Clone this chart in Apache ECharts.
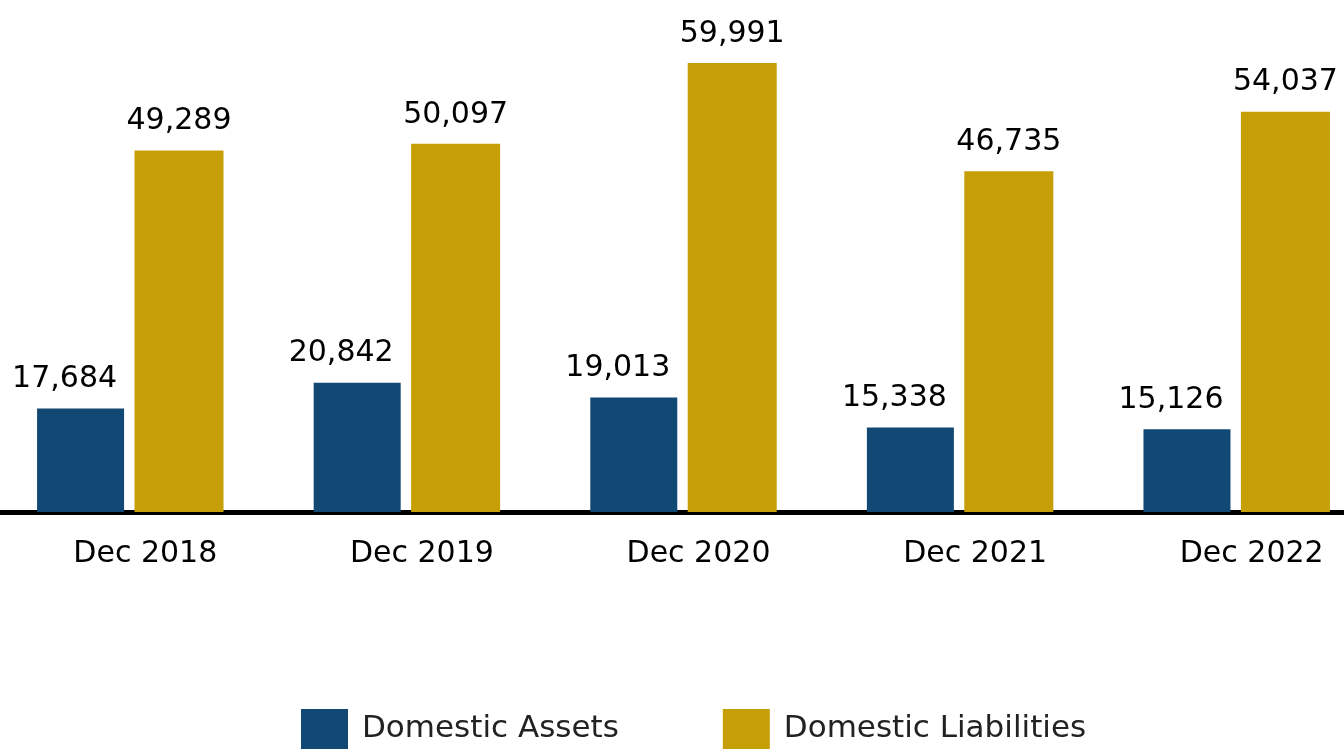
<!DOCTYPE html>
<html>
<head>
<meta charset="utf-8">
<script src="https://cdn.jsdelivr.net/npm/echarts@6/dist/echarts.min.js"></script>
<style>
  html, body { margin: 0; padding: 0; background: #fff; }
  #chart { width: 1344px; height: 749px; }
</style>
</head>
<body>
<div id="chart"></div>
<script>
const categories = ['Dec 2018', 'Dec 2019', 'Dec 2020', 'Dec 2021', 'Dec 2022'];
const domesticAssets = [17684, 20842, 19013, 15338, 15126];
const domesticLiabilities = [49289, 50097, 59991, 46735, 54037];

const FONT = 'DejaVu Sans';
const fmt = (p) => p.value.toLocaleString('en-US');

const chart = echarts.init(document.getElementById('chart'));
chart.setOption({
    animation: false,
    backgroundColor: '#ffffff',
    textStyle: { fontFamily: FONT },
    color: ['#124874', '#C59F05'],
    grid: {
        top: 63,
        bottom: 237,
        left: -8,
        width: 1383,
        outerBoundsMode: 'none',
        containLabel: false
    },
    legend: {
        data: ['Domestic Assets', 'Domestic Liabilities'],
        left: 296,
        top: 704,
        itemWidth: 47,
        itemHeight: 40,
        itemGap: 104,
        icon: 'rect',
        selectedMode: false,
        textStyle: { fontFamily: FONT, fontSize: 31, color: '#222', padding: [16, 0, 0, 9] }
    },
    xAxis: {
        type: 'category',
        data: categories,
        axisLine: { lineStyle: { color: '#000', width: 5 } },
        axisTick: { show: false },
        axisLabel: {
            fontFamily: FONT,
            fontSize: 30,
            color: '#000',
            margin: 27,
            padding: [0, 0, 0, 30]
        }
    },
    yAxis: {
        type: 'value',
        min: 5000,
        max: 60000,
        show: false,
        splitLine: { show: false }
    },
    series: [
        {
            name: 'Domestic Assets',
            type: 'bar',
            data: domesticAssets,
            barWidth: 87,
            barGap: '12%',
            label: {
                show: true,
                position: 'top',
                distance: 14,
                offset: [-16, 0],
                fontFamily: FONT,
                fontSize: 30,
                color: '#000',
                formatter: fmt
            }
        },
        {
            name: 'Domestic Liabilities',
            type: 'bar',
            data: domesticLiabilities,
            barWidth: 89,
            label: {
                show: true,
                position: 'top',
                distance: 14,
                fontFamily: FONT,
                fontSize: 30,
                color: '#000',
                formatter: fmt
            }
        }
    ]
});
</script>
</body>
</html>
